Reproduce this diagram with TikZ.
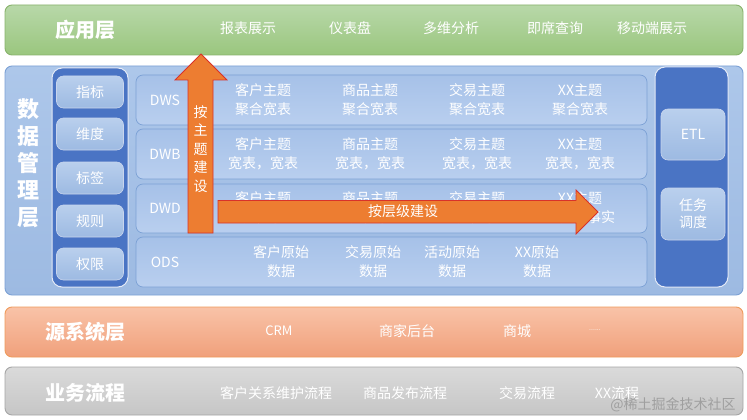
\documentclass[tikz,border=0pt]{standalone}
\usepackage{fontspec}
\setmainfont{Noto Sans CJK SC}
\setsansfont{Noto Sans CJK SC}
\definecolor{gtop}{HTML}{B8D8A9}
\definecolor{gbot}{HTML}{9AC67E}
\definecolor{gline}{HTML}{88B36C}
\definecolor{btop}{HTML}{ADC7EA}
\definecolor{bbot}{HTML}{9DBAE2}
\definecolor{bline}{HTML}{7CA1D5}
\definecolor{dblue}{HTML}{4A74C4}
\definecolor{rowtop}{HTML}{A6C1E8}
\definecolor{rowbot}{HTML}{B9CFEF}
\definecolor{arrfill}{HTML}{ED7D31}
\definecolor{arrline}{HTML}{D8322A}
\definecolor{otop}{HTML}{F9C3A8}
\definecolor{obot}{HTML}{F0A07B}
\definecolor{oline}{HTML}{EF9B5C}
\definecolor{ytop}{HTML}{DADADA}
\definecolor{ybot}{HTML}{C6C6C6}
\definecolor{yline}{HTML}{A6A6A6}
\tikzset{
  layerbox/.style={rounded corners=7pt, line width=0.9pt, inner sep=0pt},
  appbox/.style={layerbox, draw=gline, top color=gtop, bottom color=gbot},
  databox/.style={layerbox, draw=bline, top color=btop, bottom color=bbot},
  srcbox/.style={layerbox, draw=oline, top color=otop, bottom color=obot},
  bizbox/.style={layerbox, draw=yline, top color=ytop, bottom color=ybot},
  colbox/.style={rounded corners=10pt, draw=white!85!dblue, line width=1pt, fill=dblue, inner sep=0pt},
  btn/.style={rounded corners=7pt, draw=white!70!dblue, line width=0.6pt, top color=btop!85!white, bottom color=bbot, inner sep=0pt, text=white, font=\fontsize{14}{17}\selectfont, align=center},
  rowbox/.style={rounded corners=7pt, draw=bline, line width=0.7pt, top color=rowtop, bottom color=rowbot, inner sep=0pt},
  title/.style={text=white, font=\fontsize{20}{22}\selectfont\bfseries},
  item/.style={text=white, font=\fontsize{14}{16}\selectfont},
  cell/.style={text=white, font=\fontsize{14}{19}\selectfont, align=center},
  rowlab/.style={text=white, font=\fontsize{14}{16}\selectfont},
  bigarrow/.style={fill=arrfill, draw=arrline, line width=0.8pt},
  arrtext/.style={text=white, font=\fontsize{14}{17}\selectfont, align=center}
}
\begin{document}
\begin{tikzpicture}[x=1pt,y=-1pt]
\useasboundingbox[fill=white] (0,0) rectangle (747,420);
% application layer
\node[appbox, minimum width=738pt, minimum height=50pt] (app) at (374,30) {};
\node[title] (appt) at (85,30) {应用层};
\node[item] (a1) at (248,28) {报表展示};
\node[item] (a2) at (350,28) {仪表盘};
\node[item] (a3) at (451,28) {多维分析};
\node[item] (a4) at (555,28) {即席查询};
\node[item] (a5) at (652,28) {移动端展示};
% data management layer
\node[databox, minimum width=738pt, minimum height=229pt] (dm) at (374,180.5) {};
\node[title, font=\fontsize{22}{27}\selectfont\bfseries, align=center] (dmt) at (28,163) {数\\据\\管\\理\\层};
% left column
\node[colbox, minimum width=76pt, minimum height=219pt] (lc) at (90,177.5) {};
\node[btn, minimum width=67pt, minimum height=32pt] (b1) at (90,92) {指标};
\node[btn, minimum width=67pt, minimum height=32pt] (b2) at (90,134) {维度};
\node[btn, minimum width=67pt, minimum height=32pt] (b3) at (90,178) {标签};
\node[btn, minimum width=67pt, minimum height=32pt] (b4) at (90,221) {规则};
\node[btn, minimum width=67pt, minimum height=32pt] (b5) at (90,264) {权限};
% right column
\node[colbox, minimum width=73pt, minimum height=220pt] (rc) at (691.5,177) {};
\node[btn, minimum width=64pt, minimum height=51pt] (etl) at (693,134.5) {ETL};
\node[btn, minimum width=64pt, minimum height=52pt] (task) at (693,214) {任务\\调度};
% rows
\node[rowbox, minimum width=511pt, minimum height=50pt] (dws) at (391.5,100) {};
\node[rowbox, minimum width=511pt, minimum height=50pt] (dwb) at (391.5,154) {};
\node[rowbox, minimum width=511pt, minimum height=49pt] (dwd) at (391.5,208.5) {};
\node[rowbox, minimum width=511pt, minimum height=50pt] (ods) at (391.5,262) {};
\node[rowlab] (l1) at (165,100) {DWS};
\node[rowlab] (l2) at (165,154) {DWB};
\node[rowlab] (l3) at (165,208) {DWD};
\node[rowlab] (l4) at (165,262) {ODS};
% DWS cells
\node[cell] (s1) at (263,100) {客户主题\\聚合宽表};
\node[cell] (s2) at (370,100) {商品主题\\聚合宽表};
\node[cell] (s3) at (477,100) {交易主题\\聚合宽表};
\node[cell] (s4) at (580,100) {XX主题\\聚合宽表};
% DWB cells
\node[cell] (w1) at (263,154) {客户主题\\宽表，宽表};
\node[cell] (w2) at (370,154) {商品主题\\宽表，宽表};
\node[cell] (w3) at (477,154) {交易主题\\宽表，宽表};
\node[cell] (w4) at (580,154) {XX主题\\宽表，宽表};
% DWD cells
\node[cell] (d1) at (263,208) {客户主题\\实体，事实};
\node[cell] (d2) at (370,208) {商品主题\\实体，事实};
\node[cell] (d3) at (477,208) {交易主题\\实体，事实};
\node[cell] (d4) at (580,208) {XX主题\\实体，事实};
% ODS cells
\node[cell] (o1) at (281,262) {客户原始\\数据};
\node[cell] (o2) at (373,262) {交易原始\\数据};
\node[cell] (o3) at (452,262) {活动原始\\数据};
\node[cell] (o4) at (537,262) {XX原始\\数据};
% arrows
\draw[bigarrow] (188,233) -- (188,80) -- (175,80) -- (201,54) -- (227,80) -- (213,80) -- (213,233) -- cycle;
\node[arrtext, font=\fontsize{14}{18.5}\selectfont] (va) at (200.5,149) {按\\主\\题\\建\\设};
\draw[bigarrow] (218,200.5) -- (576,200.5) -- (576,190) -- (598,212) -- (576,234) -- (576,223) -- (218,223) -- cycle;
\node[arrtext] (ha) at (403,211.5) {按层级建设};
% source layer
\node[srcbox, minimum width=738pt, minimum height=50pt] (src) at (374,332) {};
\node[title] (srct) at (85,332) {源系统层};
\node[item, font=\fontsize{13}{15}\selectfont] (c1) at (279,331) {CRM};
\node[item] (c2) at (407,331) {商家后台};
\node[item] (c3) at (517,331) {商城};
\node[item, font=\fontsize{7}{9}\selectfont] (c4) at (595,330) {......};
% business process
\node[bizbox, minimum width=738pt, minimum height=48pt] (biz) at (374,391) {};
\node[title] (bizt) at (85,393) {业务流程};
\node[item] (p1) at (276,393) {客户关系维护流程};
\node[item] (p2) at (405,393) {商品发布流程};
\node[item] (p3) at (527,393) {交易流程};
\node[item] (p4) at (617,393) {XX流程};
\node[text=gray!75, font=\fontsize{14}{16}\selectfont] (wm) at (673,405) {@稀土掘金技术社区};
\end{tikzpicture}
\end{document}
